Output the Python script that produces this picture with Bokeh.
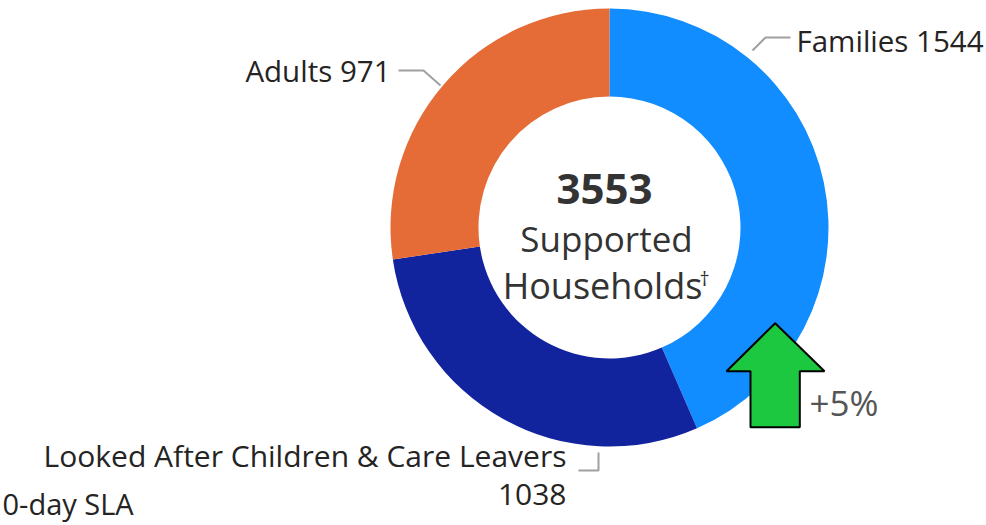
import numpy as np
from bokeh.plotting import figure
from bokeh.models import Range1d
from bokeh.core.properties import value
from bokeh.embed import file_html
from bokeh.resources import INLINE

# ---- data ----
categories = ["Families", "Looked After Children & Care Leavers", "Adults"]
counts = [1544, 1038, 971]
colors = ["#118DFF", "#12239E", "#E66C37"]
total_label = "3553"
change_label = "+5%"

W, H = 986, 525
FONT = "Open Sans"
TXT = "#252423"

def fy(py):
    return H - py

p = figure(width=W, height=H, output_backend="svg", toolbar_location=None,
           x_range=Range1d(0, W), y_range=Range1d(0, H), min_border=0)
p.axis.visible = False
p.grid.visible = False
p.outline_line_color = None
p.background_fill_color = "white"
p.border_fill_color = "white"

cx, cy = 609, fy(227)
vals = np.array(counts, dtype=float)
frac = vals / vals.sum()
cum = np.concatenate([[0], np.cumsum(frac)])
start = np.pi / 2 - 2 * np.pi * cum[:-1]
end = np.pi / 2 - 2 * np.pi * cum[1:]
p.annular_wedge(x=cx, y=cy, inner_radius=131, outer_radius=219,
                start_angle=start, end_angle=end, direction="clock",
                fill_color=colors, line_color=None)

# leader lines
lc = "#A0A0A0"
p.line([752, 765, 790], [fy(50), fy(37), fy(37)], line_color=lc, line_width=2)
p.line([398, 423, 440], [fy(70), fy(70), fy(85)], line_color=lc, line_width=2)
p.line([598, 598, 578], [fy(452), fy(470), fy(470)], line_color=lc, line_width=2)

lab_size = "29.5px"
p.text(x=[796], y=[fy(40)], text=[f"{categories[0]} {counts[0]}"], text_font=value(FONT),
       text_font_size=lab_size, text_color=TXT, text_align="left", text_baseline="middle")
p.text(x=[390], y=[fy(70)], text=[f"{categories[2]} {counts[2]}"], text_font=value(FONT),
       text_font_size=lab_size, text_color=TXT, text_align="right", text_baseline="middle")
p.text(x=[566, 566], y=[fy(455), fy(494)], text=[categories[1], str(counts[1])], text_font=value(FONT),
       text_font_size="30px", text_color=TXT, text_align="right", text_baseline="middle")
p.text(x=[2], y=[fy(503)], text=["0-day SLA"], text_font=value(FONT),
       text_font_size="29px", text_color=TXT, text_align="left", text_baseline="middle")

# center text
p.text(x=[604], y=[fy(188)], text=[total_label], text_font=value(FONT), text_font_style="bold",
       text_font_size="42px", text_color="#333333", text_align="center", text_baseline="middle")
p.text(x=[606], y=[fy(238)], text=["Supported"], text_font=value(FONT),
       text_font_size="35px", text_color="#333333", text_align="center", text_baseline="middle")
p.text(x=[602], y=[fy(285)], text=["Households"], text_font=value(FONT),
       text_font_size="36px", text_color="#333333", text_align="center", text_baseline="middle")
p.text(x=[699], y=[fy(278)], text=["\u2020"], text_font=value(FONT),
       text_font_size="20px", text_color="#333333", text_align="left", text_baseline="middle")

# arrow
ax = [774.7, 824, 799.3, 799.3, 750, 750, 726]
ay = [fy(v) for v in [322.7, 370.7, 370.7, 426.7, 426.7, 370.7, 370.7]]
p.patch(ax, ay, fill_color="#1CC840", line_color="black", line_width=2)
p.text(x=[809], y=[fy(402)], text=[change_label], text_font=value(FONT),
       text_font_size="35px", text_color="#555555", text_align="left", text_baseline="middle")

open("out.html", "w").write(file_html(p, INLINE))
